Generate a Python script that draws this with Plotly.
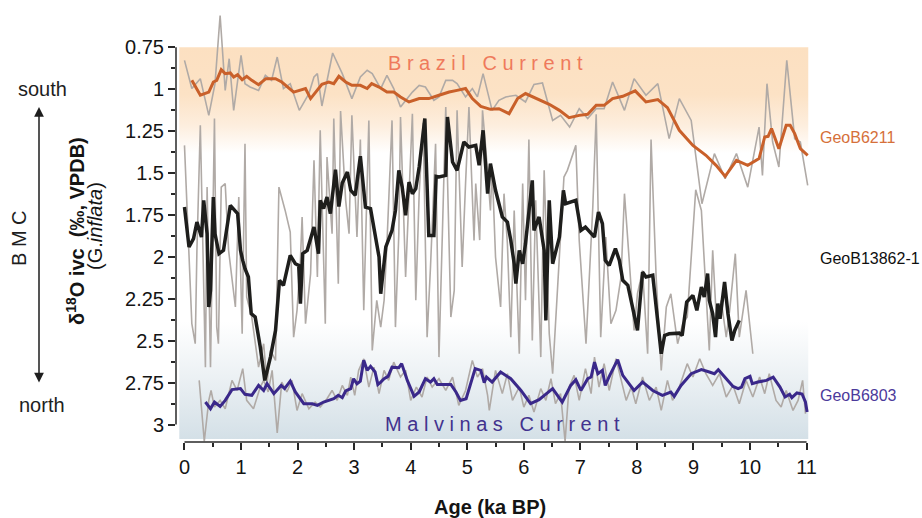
import plotly.graph_objects as go

# ---------------- data ----------------
# GeoB6211 (Brazil Current side) raw and smoothed
b6211_raw_age = [0.00,0.13,0.28,0.43,0.54,0.63,0.72,0.79,0.87,1.00,1.07,1.16,1.31,1.43,1.54,1.64,1.75,1.87,2.03,2.20,2.29,2.35,2.43,2.62,2.79,2.96,3.11,3.23,3.32,3.47,3.58,3.70,3.82,4.03,4.15,4.26,4.41,4.50,4.62,4.74,4.82,4.97,5.09,5.18,5.28,5.44,5.56,5.68,5.86,6.03,6.18,6.33,6.51,6.65,6.81,6.98,7.13,7.28,7.42,7.57,7.78,7.95,8.16,8.37,8.57,8.75,8.96,9.15,9.37,9.56,9.76,9.96,10.16,10.22,10.30,10.40,10.51,10.65,10.79,10.89,11.02]
b6211_raw_d18o = [0.828,0.996,0.937,1.156,0.967,0.56,1.007,0.818,1.126,0.798,0.967,0.987,1.007,0.917,0.947,0.808,0.996,0.967,1.126,1.026,0.927,0.907,1.10,0.784,0.907,1.056,0.927,0.887,0.907,0.996,0.917,0.996,1.106,1.017,0.977,0.987,1.066,1.046,0.947,0.947,0.967,1.046,0.996,1.046,0.907,1.126,1.066,1.046,1.036,1.076,0.971,0.963,1.186,1.156,1.226,1.116,1.175,1.116,1.116,0.957,1.126,0.937,1.036,0.967,1.295,1.056,1.186,1.683,1.384,1.533,1.384,1.584,1.226,1.514,0.967,1.315,1.464,0.828,1.295,1.315,1.573]

b6211_age = [0.13,0.28,0.43,0.51,0.57,0.65,0.72,0.81,0.87,0.94,1.02,1.10,1.19,1.31,1.44,1.61,1.72,1.93,2.14,2.23,2.43,2.55,2.64,2.73,2.85,2.96,3.11,3.23,3.31,3.44,3.58,3.70,3.82,3.97,4.15,4.32,4.50,4.68,4.82,4.97,5.09,5.24,5.41,5.56,5.74,5.89,6.03,6.24,6.45,6.63,6.80,6.98,7.13,7.28,7.42,7.57,7.75,7.97,8.16,8.37,8.54,8.75,8.99,9.22,9.40,9.56,9.76,9.96,10.16,10.26,10.32,10.38,10.51,10.64,10.71,10.79,10.89,11.02]
b6211_d18o = [0.947,1.036,1.017,0.957,0.947,0.883,0.907,0.903,0.927,0.913,0.943,0.923,0.947,0.973,0.937,0.937,0.957,1.017,0.996,1.056,0.971,0.957,0.967,0.923,0.957,0.977,0.977,0.996,0.967,0.987,1.017,1.017,1.046,1.076,1.056,1.056,1.036,1.017,1.007,0.996,1.056,1.102,1.12,1.116,1.146,1.056,1.026,1.056,1.09,1.126,1.17,1.156,1.15,1.096,1.096,1.056,1.042,1.01,1.076,1.062,1.11,1.245,1.335,1.394,1.454,1.52,1.424,1.454,1.414,1.285,1.281,1.235,1.355,1.215,1.215,1.265,1.355,1.394]

# GeoB13862-1 raw and smoothed
b13862_raw_age = [0.00,0.13,0.19,0.22,0.28,0.37,0.40,0.46,0.53,0.57,0.60,0.65,0.72,0.78,0.90,0.96,1.02,1.07,1.10,1.19,1.31,1.40,1.46,1.52,1.61,1.67,1.78,1.87,1.93,1.99,2.05,2.08,2.14,2.23,2.29,2.35,2.40,2.49,2.52,2.61,2.64,2.72,2.76,2.85,2.91,2.96,3.05,3.11,3.17,3.26,3.32,3.40,3.47,3.53,3.58,3.67,3.73,3.79,3.82,3.91,4.03,4.09,4.15,4.22,4.29,4.35,4.44,4.50,4.56,4.62,4.71,4.77,4.82,4.91,4.97,5.03,5.12,5.15,5.22,5.27,5.33,5.41,5.44,5.50,5.59,5.65,5.71,5.77,5.83,5.92,5.98,6.03,6.09,6.15,6.21,6.30,6.36,6.45,6.51,6.63,6.71,6.77,6.92,6.98,7.10,7.22,7.28,7.36,7.45,7.54,7.63,7.72,7.78,7.86,7.95,8.01,8.10,8.19,8.25,8.34,8.43,8.52,8.60,8.72,8.81,8.89,9.04,9.14,9.22,9.28,9.34,9.41,9.49,9.58,9.64,9.74,9.81,9.93,10.05]
b13862_raw_d18o = [1.335,2.399,2.518,1.961,1.215,2.658,1.584,2.658,1.175,2.419,2.518,1.584,1.563,1.961,2.299,1.643,2.459,1.325,2.24,2.359,2.658,2.518,2.757,2.558,2.618,1.584,1.723,1.852,2.479,2.319,2.02,1.762,2.399,2.10,1.424,2.12,1.245,2.399,1.405,1.862,1.175,2.16,1.13,1.663,1.862,1.156,1.882,1.30,2.319,1.186,2.558,2.259,2.419,2.259,1.921,1.186,2.419,1.862,1.166,2.12,1.146,2.259,1.623,1.20,2.479,2.061,1.325,2.598,1.862,1.106,2.359,2.20,1.126,2.061,1.563,1.106,1.902,1.563,1.90,1.126,1.364,1.723,1.464,2.001,2.299,1.623,1.921,2.479,1.723,2.578,1.563,2.259,1.30,2.499,1.663,2.598,1.484,2.459,2.697,1.961,1.524,1.484,1.335,1.902,2.518,1.703,1.15,2.479,1.882,2.399,2.319,2.12,1.623,2.001,2.439,2.22,2.081,2.578,1.30,2.12,2.677,2.299,2.22,2.518,2.399,2.359,1.60,1.723,2.22,2.558,1.961,2.399,2.259,2.479,2.319,1.981,2.479,2.20,2.578]

b13862_age = [0.00,0.08,0.16,0.22,0.30,0.34,0.40,0.43,0.46,0.48,0.51,0.54,0.61,0.69,0.81,0.94,0.99,1.03,1.07,1.13,1.18,1.25,1.34,1.42,1.52,1.61,1.68,1.75,1.87,1.96,2.02,2.05,2.09,2.17,2.29,2.37,2.40,2.46,2.52,2.58,2.67,2.73,2.79,2.88,2.94,3.02,3.11,3.20,3.29,3.44,3.47,3.56,3.67,3.73,3.79,3.85,3.91,3.97,4.03,4.09,4.15,4.25,4.29,4.32,4.41,4.45,4.50,4.62,4.65,4.74,4.82,4.94,5.03,5.15,5.21,5.28,5.36,5.41,5.50,5.62,5.71,5.77,5.83,5.86,5.92,5.98,6.03,6.09,6.15,6.18,6.27,6.36,6.39,6.45,6.51,6.63,6.70,6.74,6.92,7.01,7.09,7.25,7.32,7.39,7.44,7.51,7.62,7.69,7.75,7.84,7.95,8.01,8.10,8.16,8.28,8.34,8.43,8.49,8.57,8.75,8.80,8.88,8.99,9.06,9.14,9.19,9.25,9.28,9.34,9.39,9.43,9.47,9.55,9.61,9.68,9.73,9.81]
b13862_d18o = [1.703,1.941,1.891,1.792,1.882,1.663,1.862,2.299,2.20,1.961,1.643,1.862,1.981,1.961,1.693,1.742,1.961,2.021,2.07,2.12,2.339,2.359,2.538,2.737,2.598,2.439,2.14,2.17,1.991,2.041,2.051,2.279,1.981,1.961,1.822,1.981,1.663,1.712,1.643,1.742,1.48,1.70,1.56,1.494,1.603,1.633,1.40,1.703,1.712,2.001,2.22,1.941,1.842,1.723,1.484,1.584,1.752,1.554,1.623,1.593,1.464,1.175,1.53,1.872,1.872,1.52,1.524,1.514,1.166,1.434,1.484,1.315,1.345,1.335,1.454,1.245,1.623,1.444,1.603,1.762,1.792,1.901,2.041,2.16,1.961,2.041,1.921,1.742,1.544,1.842,1.762,1.961,2.379,1.663,2.041,1.882,1.603,1.683,1.663,1.842,1.822,1.882,1.733,1.802,2.021,2.051,1.951,2.021,2.14,2.17,2.339,2.439,2.091,2.12,2.11,2.309,2.578,2.469,2.459,2.455,2.469,2.27,2.23,2.319,2.18,2.24,2.10,2.26,2.339,2.479,2.279,2.369,2.15,2.339,2.499,2.439,2.379]

# GeoB6803 (Malvinas Current side) raw and smoothed
b6803_raw_age = [0.26,0.35,0.43,0.47,0.53,0.63,0.72,0.84,0.93,1.03,1.10,1.22,1.34,1.40,1.48,1.55,1.64,1.72,1.81,1.90,1.99,2.08,2.20,2.31,2.40,2.52,2.61,2.70,2.79,2.88,2.94,3.01,3.08,3.17,3.26,3.35,3.44,3.53,3.61,3.70,3.82,3.91,4.00,4.10,4.20,4.29,4.38,4.50,4.62,4.74,4.85,4.97,5.09,5.18,5.27,5.36,5.39,5.50,5.62,5.71,5.80,5.92,6.00,6.09,6.18,6.30,6.39,6.48,6.56,6.65,6.73,6.80,6.89,6.98,7.09,7.19,7.25,7.33,7.42,7.51,7.63,7.72,7.81,7.90,7.98,8.10,8.22,8.34,8.43,8.54,8.63,8.75,8.89,8.99,9.11,9.22,9.34,9.46,9.58,9.70,9.81,9.93,10.05,10.17,10.26,10.34,10.46,10.55,10.64,10.76,10.85,10.93,10.98]
b6803_raw_d18o = [2.737,3.10,2.856,2.797,2.896,2.856,2.906,2.737,2.797,2.667,2.856,2.906,2.777,2.737,2.806,2.677,3.05,2.747,2.806,2.737,2.916,2.816,2.906,2.866,2.896,2.846,2.797,2.856,2.767,2.826,2.717,2.826,2.677,2.608,2.777,2.658,2.816,2.677,2.737,2.628,2.717,2.677,2.856,2.777,2.836,2.717,2.777,2.727,2.797,2.717,2.886,2.797,2.618,2.717,2.667,2.826,2.916,2.677,2.816,2.697,2.856,2.777,2.896,2.826,2.926,2.786,2.856,2.727,2.876,2.816,3.10,2.777,2.707,2.856,2.667,2.816,2.598,2.777,2.637,2.797,2.608,2.737,2.856,2.777,2.876,2.717,2.856,2.777,2.916,2.737,2.856,2.777,2.637,2.717,2.608,2.697,2.767,2.697,2.836,2.767,2.876,2.737,2.836,2.717,2.816,2.697,2.856,2.896,2.797,2.916,2.856,2.737,2.936]

b6803_age = [0.37,0.46,0.53,0.63,0.72,0.84,0.99,1.07,1.19,1.31,1.40,1.46,1.58,1.71,1.77,1.87,1.96,2.11,2.26,2.35,2.46,2.64,2.72,2.79,2.85,2.94,2.99,3.05,3.11,3.17,3.23,3.29,3.37,3.42,3.47,3.53,3.60,3.67,3.79,3.84,3.94,4.06,4.15,4.26,4.35,4.41,4.47,4.62,4.71,4.80,4.88,4.98,5.03,5.14,5.24,5.30,5.34,5.44,5.59,5.77,5.95,6.12,6.27,6.51,6.68,6.83,6.92,7.01,7.13,7.19,7.25,7.31,7.39,7.44,7.52,7.66,7.75,7.95,8.10,8.28,8.45,8.60,8.66,8.78,8.96,9.14,9.28,9.37,9.44,9.58,9.70,9.79,9.85,9.91,10.00,10.04,10.14,10.29,10.41,10.53,10.62,10.70,10.74,10.83,10.92,10.98,11.01]
b6803_d18o = [2.866,2.906,2.866,2.892,2.856,2.792,2.786,2.82,2.826,2.767,2.797,2.757,2.816,2.767,2.786,2.741,2.806,2.876,2.876,2.886,2.866,2.846,2.826,2.84,2.80,2.786,2.727,2.757,2.741,2.617,2.677,2.653,2.687,2.761,2.747,2.727,2.713,2.658,2.661,2.637,2.737,2.832,2.806,2.727,2.747,2.727,2.761,2.761,2.761,2.806,2.856,2.846,2.786,2.667,2.677,2.75,2.717,2.747,2.687,2.727,2.797,2.876,2.852,2.786,2.866,2.767,2.733,2.797,2.727,2.717,2.628,2.697,2.677,2.767,2.707,2.613,2.707,2.797,2.747,2.797,2.826,2.806,2.832,2.767,2.697,2.673,2.687,2.697,2.673,2.727,2.773,2.786,2.777,2.727,2.713,2.757,2.747,2.737,2.717,2.777,2.836,2.82,2.84,2.812,2.818,2.866,2.926]

x_tick_vals = list(range(0, 12))
y_tick_vals = [0.75, 1.0, 1.25, 1.5, 1.75, 2.0, 2.25, 2.5, 2.75, 3.0]
y_tick_text = ["0.75", "1", "1.25", "1.5", "1.75", "2", "2.25", "2.5", "2.75", "3"]

# ---------------- styling ----------------
W, H = 922, 518
ML, MR, MT, MB = 176, 113, 12, 76
PW, PH = W - ML - MR, H - MT - MB
FONT = "Arial, Liberation Sans, sans-serif"
GRAY = "rgb(176,170,166)"
ORANGE = "rgb(201,96,42)"
PURPLE = "rgb(58,40,138)"
BLACK = "rgb(30,30,28)"
X_RANGE = [-0.150, 11.043]
Y_RANGE = [3.1044, 0.5394]   # reversed
BG_X = [-0.092, 11.03]
BG_Y = [0.75, 3.0865]


def px(xp):
    return (xp - ML) / PW


def py(yp):
    return (H - MB - yp) / PH


fig = go.Figure()

# background gradient band
fig.add_trace(go.Scatter(
    x=[BG_X[0], BG_X[1], BG_X[1], BG_X[0], BG_X[0]],
    y=[BG_Y[0], BG_Y[0], BG_Y[1], BG_Y[1], BG_Y[0]],
    mode="none", fill="toself",
    fillgradient=dict(type="vertical", start=BG_Y[0], stop=BG_Y[1],
                      colorscale=[[0.0, "rgb(252,224,193)"], [0.12, "rgb(252,226,197)"],
                                  [0.20, "rgb(253,238,222)"], [0.27, "rgb(255,255,255)"],
                                  [0.70, "rgb(255,255,255)"], [0.84, "rgb(236,241,244)"],
                                  [1.0, "rgb(212,224,231)"]]),
    hoverinfo="skip", showlegend=False))

for xs, ys in [(b6211_raw_age, b6211_raw_d18o), (b13862_raw_age, b13862_raw_d18o),
               (b6803_raw_age, b6803_raw_d18o)]:
    fig.add_trace(go.Scatter(x=xs, y=ys, mode="lines",
                             line=dict(color=GRAY, width=1.6), showlegend=False))

fig.add_trace(go.Scatter(x=b6211_age, y=b6211_d18o, mode="lines",
                         line=dict(color=ORANGE, width=3), showlegend=False))
fig.add_trace(go.Scatter(x=b13862_age, y=b13862_d18o, mode="lines",
                         line=dict(color=BLACK, width=3.5), showlegend=False))
fig.add_trace(go.Scatter(x=b6803_age, y=b6803_d18o, mode="lines",
                         line=dict(color=PURPLE, width=3), showlegend=False))

AX = "rgb(40,40,40)"
fig.update_layout(
    width=W, height=H, margin=dict(l=ML, r=MR, t=MT, b=MB),
    paper_bgcolor="white", plot_bgcolor="white",
    font=dict(family=FONT, size=20, color="rgb(20,20,20)"),
    xaxis=dict(range=X_RANGE, showgrid=False, zeroline=False, showline=False,
               tickmode="array", tickvals=x_tick_vals, ticks="outside", ticklen=7,
               tickwidth=1.5, tickcolor=AX, tickfont=dict(size=20),
               minor=dict(tickmode="array", tickvals=[v + 0.5 for v in x_tick_vals[:-1]],
                          ticks="outside", ticklen=4, tickwidth=1.5, tickcolor=AX)),
    yaxis=dict(range=Y_RANGE, showgrid=False, zeroline=False, showline=False,
               tickmode="array", tickvals=y_tick_vals, ticktext=y_tick_text,
               ticks="outside", ticklen=7, tickwidth=1.5, tickcolor=AX,
               tickfont=dict(size=20),
               minor=dict(tickmode="array",
                          tickvals=[v + 0.125 for v in y_tick_vals[:-1]],
                          ticks="outside", ticklen=4, tickwidth=1.5, tickcolor=AX)),
)

# axis lines spanning only the labelled ranges
fig.add_shape(type="line", xref="paper", yref="y", x0=0, x1=0, y0=0.75, y1=3.0,
              line=dict(color=AX, width=1.5))
fig.add_shape(type="line", xref="x", yref="paper", x0=0, x1=11, y0=0, y1=0,
              line=dict(color=AX, width=1.5))


def label(text, xp, yp, size=20, color="rgb(30,30,30)", angle=0, xanchor="center"):
    return dict(text=text, x=px(xp), y=py(yp), xref="paper", yref="paper",
                xanchor=xanchor, yanchor="middle", textangle=angle, showarrow=False,
                font=dict(size=size, color=color))


ann = []
ann.append(dict(text="B r a z i l   C u r r e n t", x=5.33, y=0.845, xref="x", yref="y",
                xanchor="center", yanchor="middle",
                showarrow=False, font=dict(size=20, color="rgb(239,122,92)")))
ann.append(dict(text="M a l v i n a s   C u r r e n t", x=5.62, y=2.997, xref="x", yref="y",
                xanchor="center", yanchor="middle",
                showarrow=False, font=dict(size=20, color="rgb(66,50,142)")))
ann.append(label("GeoB6211", 818, 137, 16, "rgb(214,112,58)", xanchor="left"))
ann.append(label("GeoB13862-1", 818, 258, 16, "rgb(15,15,15)", xanchor="left"))
ann.append(label("GeoB6803", 818, 395, 16, "rgb(75,58,155)", xanchor="left"))
ann.append(label("<b>Age (ka BP)</b>", 490, 507, 20, "rgb(20,20,20)"))
ann.append(label("south", 42, 89))
ann.append(label("north", 42, 405))
ann.append(label("B M C", 19, 238, angle=-90))
ann.append(label("<b>δ<sup>18</sup>O ivc  (‰, VPDB)</b>", 75, 231, 20, "rgb(20,20,20)", angle=-90))
ann.append(label("(G.<i>inflata</i>)", 95, 226, 20, "rgb(20,20,20)", angle=-90))
# double-headed arrow
ann.append(dict(text="", x=px(39), y=py(107), xref="paper", yref="paper",
                ax=0, ay=277, axref="pixel", ayref="pixel", showarrow=True,
                arrowhead=2, startarrowhead=2, arrowside="end+start",
                arrowsize=1.3, startarrowsize=1.3, arrowwidth=1.5, arrowcolor="rgb(30,30,30)"))
fig.update_layout(annotations=ann)

fig.write_html("out.html")
